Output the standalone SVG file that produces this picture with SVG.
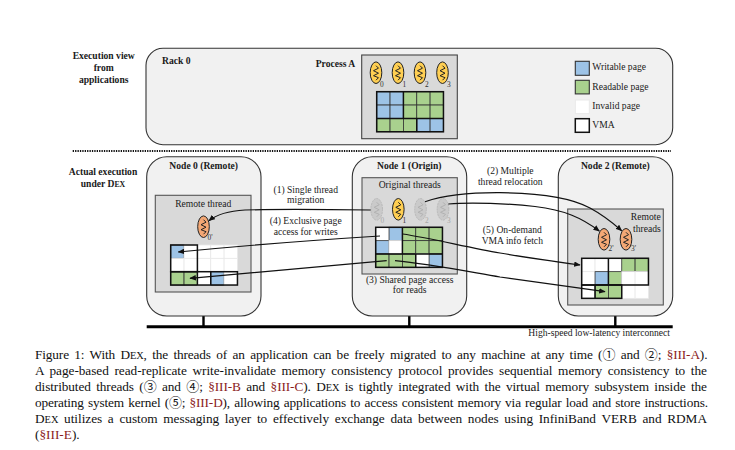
<svg xmlns="http://www.w3.org/2000/svg" width="735" height="450" viewBox="0 0 735 450">
<style>
text{font-family:"Liberation Serif","Times New Roman",serif;font-size:9.6px;fill:#1a1a1a}
.b{font-weight:bold}.m{text-anchor:middle}.e{text-anchor:end}
.cap{font-size:13.3px;fill:#111}
.sc{font-size:10.4px}.b .sc{font-size:7.8px}
.ref{fill:#8b1c1c}
.ci{font-family:"Noto Sans CJK JP","DejaVu Sans",sans-serif;font-size:13px}
.sub{font-size:7.4px;fill:#333}.subg{font-size:7.4px;fill:#a8a8a8}
.nb{fill:#f1f1f1;stroke:#333;stroke-width:1.1}
.ib{fill:#d9d9d9;stroke:#555;stroke-width:1.1}
.w{fill:#fff;stroke:#e9e9e9;stroke-width:.8}
.bl{fill:#9dc3e6;stroke:#333;stroke-width:.8}
.gr{fill:#a9d18e;stroke:#333;stroke-width:.8}
.vma{fill:none;stroke:#111;stroke-width:1.5}
.line{fill:none;stroke:#111;stroke-width:1.2}
.th{stroke:#222;stroke-width:1}
.zig{fill:none;stroke:#222;stroke-width:1}
.ghost{opacity:.4}
</style>
<defs>
<marker id="ah" viewBox="0 0 10 10" refX="9" refY="5" markerWidth="6.5" markerHeight="5.5" markerUnits="userSpaceOnUse" orient="auto" preserveAspectRatio="none"><path d="M0 0L10 5L0 10z" fill="#111"/></marker>
<g id="y"><ellipse rx="5.8" ry="10.8" fill="#ffcf52" class="th"/><path class="zig" d="M0-7L2.5-4.5L-2.5-2L2.5 .5L-2.5 3L2.5 5L0 7.5"/></g>
<g id="o"><ellipse rx="5.8" ry="10.8" fill="#f4a875" class="th"/><path class="zig" d="M0-7L2.5-4.5L-2.5-2L2.5 .5L-2.5 3L2.5 5L0 7.5"/></g>
<g id="g"><ellipse rx="5.8" ry="10.8" fill="#b5b5b5" stroke="#888" stroke-width="1" stroke-dasharray="2 .8"/><path fill="none" stroke="#777" stroke-width="1" d="M0-7L2.5-4.5L-2.5-2L2.500 .5L-2.500 3L2.500 5L0 7.500"/></g>
<rect id="c" width="13.350" height="13.350"/>
</defs>

<g id="labels-left">
<text class="b m" x="103.700" y="58.700">Execution view</text>
<text class="b m" x="103.700" y="70.700">from</text>
<text class="b m" x="103.700" y="82.700">applications</text>
<text class="b m" x="103" y="174.500">Actual execution</text>
<text class="b m" x="103" y="186.500">under D<tspan class="sc">EX</tspan></text>
</g>

<g id="rack">
<rect class="nb" x="146" y="48.300" width="526.700" height="96.400" rx="17"/>
<text class="b" x="162" y="63.700">Rack 0</text>
<text class="b" x="315.700" y="66.700">Process A</text>
</g>

<g id="process-a">
<rect x="361.700" y="55" width="95.600" height="83.700" fill="#d9d9d9" stroke="#444" stroke-width="1.100"/>
<use href="#y" x="376" y="72.700"/><use href="#y" x="398" y="72.700"/><use href="#y" x="420" y="72.700"/><use href="#y" x="442.500" y="72.700"/>
<text class="sub" x="380" y="86.500">0</text><text class="sub" x="402.500" y="86.500">1</text><text class="sub" x="425" y="86.500">2</text><text class="sub" x="447" y="86.500">3</text>
<g transform="translate(376.700 91.700)">
<use href="#c" class="bl"/><use href="#c" class="bl" x="13.350"/><use href="#c" class="gr" x="26.700"/><use href="#c" class="gr" x="40.050"/><use href="#c" class="gr" x="53.400"/>
<use href="#c" class="bl" y="13.350"/><use href="#c" class="bl" x="13.350" y="13.350"/><use href="#c" class="gr" x="26.700" y="13.350"/><use href="#c" class="gr" x="40.050" y="13.350"/><use href="#c" class="gr" x="53.400" y="13.350"/>
<use href="#c" class="gr" y="26.700"/><use href="#c" class="gr" x="13.350" y="26.700"/><use href="#c" class="gr" x="26.700" y="26.700"/><use href="#c" class="bl" x="40.050" y="26.700"/><use href="#c" class="bl" x="53.400" y="26.700"/>
<rect class="vma" width="66.750" height="40.050"/>
<path class="vma" d="M0 26.700H66.750M26.700 0V26.700M40.050 26.700V40.050"/>
</g>
</g>

<g id="legend">
<rect x="575.300" y="61.300" width="14" height="14" fill="#9dc3e6" stroke="#333" stroke-width="1.100"/>
<text x="592.300" y="70">Writable page</text>
<rect x="575.300" y="80.300" width="14" height="13.600" fill="#a9d18e" stroke="#333" stroke-width="1.100"/>
<text x="592.300" y="90">Readable page</text>
<rect x="575.300" y="100" width="14" height="13.600" fill="#fff" stroke="#e9e9e9"/>
<text x="592.300" y="109">Invalid page</text>
<rect x="575.300" y="118.700" width="14" height="13.600" fill="#fff" stroke="#111" stroke-width="1.500"/>
<text x="592.300" y="128">VMA</text>
</g>

<path id="divider" d="M72.700 151H671" fill="none" stroke="#111" stroke-width="2" stroke-dasharray="1.300 1.100"/>

<g id="interconnect">
<path d="M146.700 326.700H672.700" stroke="#000" stroke-width="3" fill="none"/>
<path d="M203.500 316V326M409.300 316V326M615.300 316V326" stroke="#000" stroke-width="2.400" fill="none"/>
<text x="528.300" y="335.700">High-speed low-latency interconnect</text>
</g>

<g id="node-0">
<rect class="nb" x="146.700" y="156.700" width="114.300" height="159.300" rx="20"/>
<text class="b m" x="203.700" y="168.700">Node 0 (Remote)</text>
<rect class="ib" x="155.300" y="195.300" width="95.700" height="96.700"/>
<text class="m" x="203.300" y="206.700">Remote thread</text>
<use href="#o" x="203.500" y="226.700"/>
<text class="sub" x="207.500" y="239.500">0'</text>
<g transform="translate(170.700 245)">
<use href="#c" class="bl"/><use href="#c" class="w" x="13.350"/><use href="#c" class="w" x="26.700"/><use href="#c" class="w" x="40.050"/><use href="#c" class="w" x="53.400"/>
<use href="#c" class="w" y="13.350"/><use href="#c" class="w" x="13.350" y="13.350"/><use href="#c" class="w" x="26.700" y="13.350"/><use href="#c" class="w" x="40.050" y="13.350"/><use href="#c" class="w" x="53.400" y="13.350"/>
<use href="#c" class="gr" y="26.700"/><use href="#c" class="gr" x="13.350" y="26.700"/><use href="#c" class="w" x="26.700" y="26.700"/><use href="#c" class="bl" x="40.050" y="26.700"/><use href="#c" class="w" x="53.400" y="26.700"/>
<rect class="vma" width="26.700" height="26.700"/>
<rect class="vma" y="26.700" width="66.750" height="13.350"/>
<path class="vma" d="M26.700 26.700V40.050M40.050 26.700V40.050"/>
</g>
</g>

<g id="node-1">
<rect class="nb" x="352.300" y="156.700" width="114.400" height="159.300" rx="20"/>
<text class="b m" x="409.300" y="168.700">Node 1 (Origin)</text>
<rect class="ib" x="362" y="177.700" width="95.300" height="96.300"/>
<text class="m" x="409.700" y="188.300">Original threads</text>
<use href="#g" class="ghost" x="376.700" y="209.300"/><use href="#y" x="398.300" y="209.300"/><use href="#g" class="ghost" x="420.500" y="209.300"/><use href="#g" class="ghost" x="443" y="209.300"/>
<text class="subg" x="380.500" y="222.800">0</text><text class="sub" x="402.500" y="222.800">1</text><text class="subg" x="425" y="222.800">2</text><text class="subg" x="447" y="222.800">3</text>
<g transform="translate(375.700 227.300)">
<use href="#c" class="w"/><use href="#c" class="bl" x="13.350"/><use href="#c" class="gr" x="26.700"/><use href="#c" class="gr" x="40.050"/><use href="#c" class="gr" x="53.400"/>
<use href="#c" class="bl" y="13.350"/><use href="#c" class="w" x="13.350" y="13.350"/><use href="#c" class="gr" x="26.700" y="13.350"/><use href="#c" class="gr" x="40.050" y="13.350"/><use href="#c" class="gr" x="53.400" y="13.350"/>
<use href="#c" class="gr" y="26.700"/><use href="#c" class="gr" x="13.350" y="26.700"/><use href="#c" class="gr" x="26.700" y="26.700"/><use href="#c" class="w" x="40.050" y="26.700"/><use href="#c" class="bl" x="53.400" y="26.700"/>
<rect class="vma" width="66.750" height="40.050"/>
<path class="vma" d="M0 26.700H66.750M26.700 0V26.700M40.050 26.700V40.050"/>
</g>
<text class="m" x="409.700" y="282.700">(3) Shared page access</text>
<text class="m" x="409.700" y="293.300">for reads</text>
</g>

<g id="node-2">
<rect class="nb" x="558.300" y="156.700" width="114.400" height="159.300" rx="20"/>
<text class="b m" x="615.300" y="168.700">Node 2 (Remote)</text>
<rect class="ib" x="567.700" y="209" width="95.600" height="96"/>
<text class="e" x="660.700" y="220">Remote</text>
<text class="e" x="660.700" y="231.700">threads</text>
<use href="#o" x="604" y="239.300"/><use href="#o" x="626" y="239.300"/>
<text class="sub" x="608.500" y="250.800">2'</text><text class="sub" x="631" y="250.800">3'</text>
<g transform="translate(581.700 258.300)">
<use href="#c" class="w"/><use href="#c" class="w" x="13.350"/><use href="#c" class="w" x="26.700"/><use href="#c" class="gr" x="40.050"/><use href="#c" class="gr" x="53.400"/>
<use href="#c" class="w" y="13.350"/><use href="#c" class="bl" x="13.350" y="13.350"/><use href="#c" class="gr" x="26.700" y="13.350"/><use href="#c" class="w" x="40.050" y="13.350"/><use href="#c" class="w" x="53.400" y="13.350"/>
<use href="#c" class="w" y="26.700"/><use href="#c" class="gr" x="13.350" y="26.700"/><use href="#c" class="gr" x="26.700" y="26.700"/><use href="#c" class="w" x="40.050" y="26.700"/><use href="#c" class="w" x="53.400" y="26.700"/>
<rect class="vma" width="66.750" height="26.700"/>
<rect class="vma" y="26.700" width="40.050" height="13.350"/>
<path class="vma" d="M26.700 0V26.700M13.350 26.700V40.050"/>
</g>
</g>

<g id="connectors">
<path class="line" marker-end="url(#ah)" d="M370.700 210C330 209.500 280 209 245 210C228 211 216 215 209 220.700"/>
<path class="line" marker-end="url(#ah)" d="M425 201.700C445 195 470 192.500 500 192.700C540 193 570 197 590 208C603 215 613 223 621.700 230.700"/>
<path class="line" marker-end="url(#ah)" d="M448.300 204C470 202 510 203.500 535 206.500C565 210 582 218 599.300 231"/>
<path class="line" marker-end="url(#ah)" d="M402.700 234C430 238 470 248 500 253C530 258 555 261.500 580 265"/>
<path class="line" marker-end="url(#ah)" d="M395 260.700C430 264 470 272 500 277C535 282 570 287 605 291.700"/>
<path class="line" marker-end="url(#ah)" d="M380 236C340 238.500 260 244 178.300 252"/>
<path class="line" marker-end="url(#ah)" d="M386.700 260.700C340 265 260 272 190 278.300"/>
</g>

<g id="connector-labels">
<text class="m" x="305.700" y="192.700">(1) Single thread</text>
<text class="m" x="305.700" y="203.300">migration</text>
<text class="m" x="305.700" y="224">(4) Exclusive page</text>
<text class="m" x="305.700" y="235.300">access for writes</text>
<text class="m" x="510.300" y="174">(2) Multiple</text>
<text class="m" x="510.300" y="185.300">thread relocation</text>
<text class="m" x="512.300" y="232.700">(5) On-demand</text>
<text class="m" x="512.300" y="244.300">VMA info fetch</text>
</g>

<g id="caption">
<text class="cap" x="35" y="359.300" word-spacing="2.200" textLength="672.500" lengthAdjust="spacing">Figure 1: With D<tspan class="sc">EX</tspan>, the threads of an application can be freely migrated to any machine at any time (<tspan class="ci">①</tspan> and <tspan class="ci">②</tspan>; <tspan class="ref">§III-A</tspan>).</text>
<text class="cap" x="35" y="375.300" word-spacing="2.400" textLength="672" lengthAdjust="spacing">A page-based read-replicate write-invalidate memory consistency protocol provides sequential memory consistency to the</text>
<text class="cap" x="35" y="391.300" word-spacing="2.200" textLength="672" lengthAdjust="spacing">distributed threads (<tspan class="ci">③</tspan> and <tspan class="ci">④</tspan>; <tspan class="ref">§III-B</tspan> and <tspan class="ref">§III-C</tspan>). D<tspan class="sc">EX</tspan> is tightly integrated with the virtual memory subsystem inside the</text>
<text class="cap" x="35" y="407.300" word-spacing="1" textLength="673" lengthAdjust="spacing">operating system kernel (<tspan class="ci">⑤</tspan>; <tspan class="ref">§III-D</tspan>), allowing applications to access consistent memory via regular load and store instructions.</text>
<text class="cap" x="35" y="423.300" word-spacing="2.400" textLength="672" lengthAdjust="spacing">D<tspan class="sc">EX</tspan> utilizes a custom messaging layer to effectively exchange data between nodes using InfiniBand VERB and RDMA</text>
<text class="cap" x="35" y="439.300">(<tspan class="ref">§III-E</tspan>).</text>
</g>
</svg>
